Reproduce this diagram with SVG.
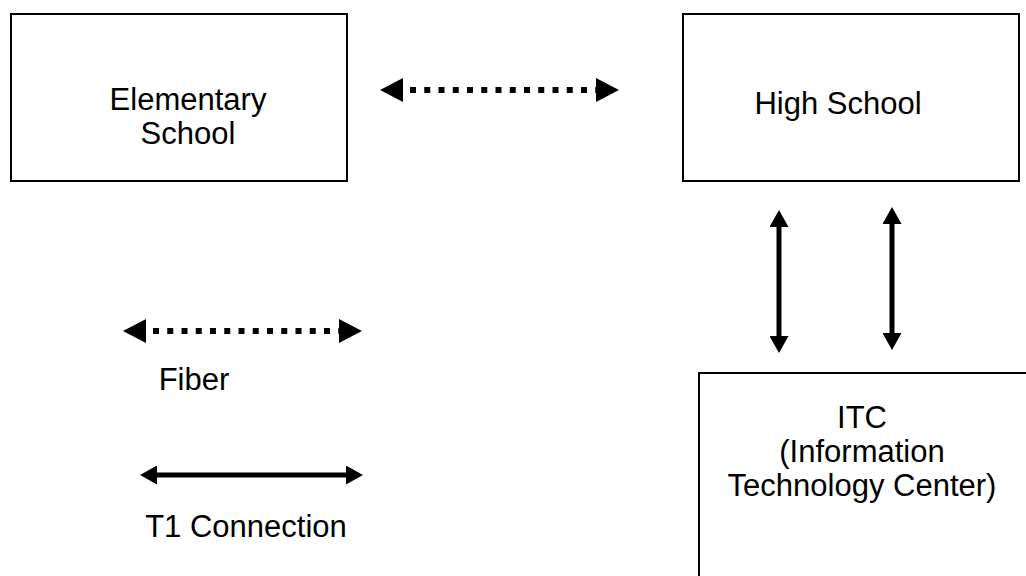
<svg xmlns="http://www.w3.org/2000/svg" width="1026" height="576" viewBox="0 0 1026 576">
<style>
.box{fill:#fff;stroke:#000;stroke-width:2}
.lbl{font-family:"Liberation Sans",Arial,sans-serif;font-size:31px;fill:#000;text-anchor:middle}
.fiber{fill:none;stroke:#000;stroke-width:6;stroke-dasharray:6 8.25;stroke-dashoffset:7.25;marker-start:url(#fh);marker-end:url(#fh)}
.t1{fill:none;stroke:#000;stroke-width:5;marker-start:url(#th);marker-end:url(#th)}
</style>
<defs>
<marker id="fh" markerUnits="userSpaceOnUse" viewBox="0 0 23 24" markerWidth="23" markerHeight="24" refX="0" refY="12" orient="auto-start-reverse"><path d="M0,0 L23,12 L0,24 Z" fill="#000"/></marker>
<marker id="th" markerUnits="userSpaceOnUse" viewBox="0 0 17 19" markerWidth="17" markerHeight="19" refX="0" refY="9.5" orient="auto-start-reverse"><path d="M0,0 L17,9.5 L0,19 Z" fill="#000"/></marker>
</defs>
<rect width="1026" height="576" fill="#fff"/>
<g id="elementary">
<rect class="box" x="11" y="14" width="336" height="167"/>
<text class="lbl" x="188" y="110">Elementary</text>
<text class="lbl" x="188" y="144">School</text>
</g>
<g id="highschool">
<rect class="box" x="683" y="14" width="336" height="167"/>
<text class="lbl" x="838" y="114">High School</text>
</g>
<g id="itc">
<rect class="box" x="699" y="373" width="340" height="220"/>
<text class="lbl" x="862" y="428">ITC</text>
<text class="lbl" x="862" y="462">(Information</text>
<text class="lbl" x="862" y="496">Technology Center)</text>
</g>
<g id="legend">
<text class="lbl" x="194" y="390">Fiber</text>
<text class="lbl" x="246" y="537">T1 Connection</text>
</g>
<g id="connectors">
<path class="fiber" d="M403,90 H596"/>
<path class="fiber" d="M146,331 H339"/>
<path class="t1" d="M157,475 H346"/>
<path class="t1" d="M779,227 V336"/>
<path class="t1" d="M892,224 V333"/>
</g>
</svg>
